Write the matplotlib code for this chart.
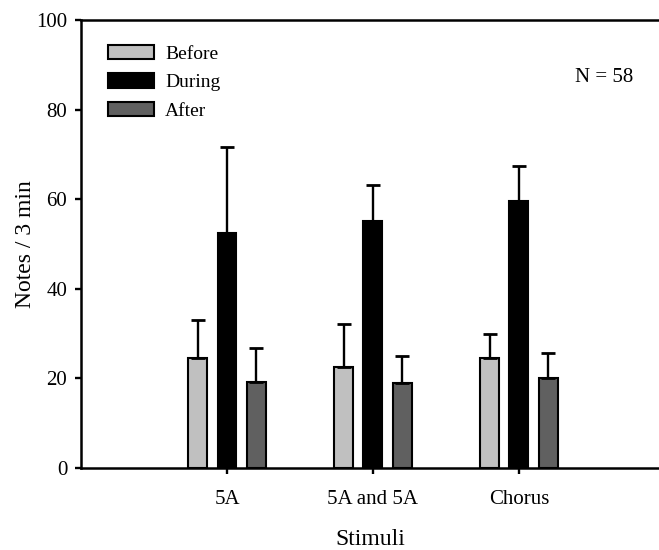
import numpy as np
import matplotlib
matplotlib.use('Agg')
import matplotlib.pyplot as plt

# -------- Font / figure style --------
plt.rcParams.update({
    'font.family': 'serif',
    'font.serif': ['Liberation Serif', 'DejaVu Serif'],
    'axes.linewidth': 1.8,
})

# -------- Data --------
stimuli = ['5A', '5A and 5A', 'Chorus']
series_names = ['Before', 'During', 'After']
before_mean = [24.5, 22.6, 24.5]
during_mean = [52.5, 55.1, 59.6]
after_mean = [19.3, 19.0, 20.0]
before_err = [8.5, 9.5, 5.4]
during_err = [19.2, 8.1, 7.9]
after_err = [7.4, 6.0, 5.6]
y_ticks = [0, 20, 40, 60, 80, 100]

colors = ['#c0c0c0', '#000000', '#606060']
means = [before_mean, during_mean, after_mean]
errs = [before_err, during_err, after_err]

fig = plt.figure(figsize=(6.59, 5.5), dpi=100)
ax = fig.add_axes([0.123, 0.149, 0.877, 0.8146])

x = np.arange(1, len(stimuli) + 1)
offsets = [-0.2, 0.0, 0.2]
width = 0.13

for name, m, e, c, off in zip(series_names, means, errs, colors, offsets):
    ax.bar(x + off, m, width, color=c, edgecolor='black', linewidth=1.5,
           label=name, zorder=2)
    ax.errorbar(x + off, m, yerr=[np.zeros(len(e)), e], fmt='none',
                ecolor='black', elinewidth=1.7, capsize=5, capthick=2.0,
                zorder=3)

ax.set_xlim(0, 3.96)
ax.set_ylim(0, 100)
ax.set_xticks(x)
ax.set_xticklabels(stimuli)
ax.set_yticks(y_ticks)

ax.spines['right'].set_visible(False)
ax.tick_params(axis='both', direction='out', length=4, width=1.7, labelsize=15)
ax.tick_params(axis='x', pad=12)
ax.tick_params(axis='y', pad=6)

ax.set_xlabel('Stimuli', fontsize=17, labelpad=14)
ax.set_ylabel('Notes / 3 min', fontsize=17, labelpad=0)

ax.text(0.905, 0.871, 'N = 58', transform=ax.transAxes, fontsize=15,
        ha='center', va='center')

ax.legend(loc='upper left', bbox_to_anchor=(0.046, 0.945), frameon=False,
          fontsize=14, handlelength=2.4, handleheight=0.75, handletextpad=0.55,
          labelspacing=0.55, borderpad=0, borderaxespad=0)

fig.savefig('out.png', dpi=100)
